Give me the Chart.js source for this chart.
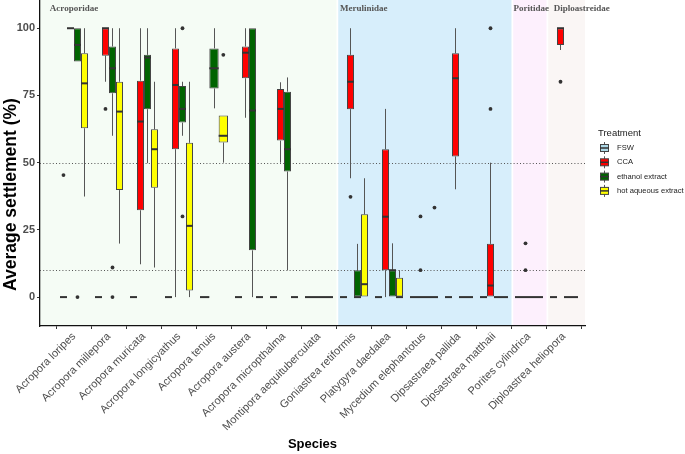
<!DOCTYPE html>
<html><head><meta charset="utf-8">
<script src="https://cdn.jsdelivr.net/npm/chart.js@4.4.0/dist/chart.umd.min.js"></script>
<style>html,body{margin:0;padding:0;background:#fff;}#wrap{width:685px;height:454px;}</style>
</head><body><div id="wrap"><canvas id="c" width="685" height="454"></canvas></div>
<script>
// ---------- DATA ----------
const species = ['Acropora loripes','Acropora millepora','Acropora muricata','Acropora longicyathus',
  'Acropora tenuis','Acropora austera','Acropora micropthalma','Montipora aequituberculata',
  'Goniastrea retiformis','Platygyra daedalea','Mycedium elephantotus','Dipsastraea pallida',
  'Dipsastraea matthaii','Porites cylindrica','Diploastrea heliopora'];
const families = ['Acroporidae','Merulinidae','Poritidae','Diploastreidae'];
const familyFirst = [0, 8, 13, 14];
const familyLast  = [7, 12, 13, 14];
const treatments = ['FSW','CCA','ethanol extract','hot aqueous extract'];
const yTicks = [0, 25, 50, 75, 100];
const refLines = [50, 10];
// box stats per species: [lower whisker, q1, median, q3, upper whisker]; null = not tested
const Z = [0,0,0,0,0];
const fswStats = [Z,Z,Z,Z,Z,Z,Z,Z,Z,Z,Z,Z,Z,Z,Z];
const fswOut = [[45.4],[],[],[],[],[],[],[],[],[],[],[],[],[],[]];
const ccaStats = [
  [100,100,100,100,100],[80.1,89.8,100,100,100],[12.2,32.3,65.3,80.5,100],[0,55.0,78.9,92.5,100],
  null,[66.7,81.4,90.9,93.2,100],[50,58.2,70,77.4,79.9],Z,
  [44.2,69.9,80.1,90.1,100],[0,10,29.9,55,70],Z,[40.1,52.3,81.4,90.7,100],
  [0,0,4.3,19.8,50],Z,[91.9,93.8,100,100,100]];
const ccaOut = [[],[70],[],[],[],[],[],[],[37.3],[],[30,10],[],[70,100],[20,10],[80.1]];
const ethStats = [
  [87.6,87.6,93.8,100,100],[60,75.8,85.1,93.2,100],[49.8,69.9,89.1,90.1,100],[60,64.9,70,78.5,80.1],
  [70.2,77.6,85.1,92.5,100],[0,17.4,69.4,100,100],[10,46.7,55,76.4,81.7],Z,
  [0,0,0,10,19.8],[0,0,10,10,20],Z,Z,Z,Z,Z];
const ethOut = [[0],[11,0],[],[100,30],[],[],[],[],[],[],[],[],[],[],[]];
const hotStats = [
  [37.4,62.8,79.5,90.7,100],[19.9,39.8,69.0,80.1,100],[11.0,40.7,55.0,62.4,80.1],[0,2.5,26.5,57.4,80.1],
  [50,57.5,60,67.5,67.5],Z,Z,Z,
  [0,0,4.8,30.8,44.2],[0,0,0,7.2,10],Z,Z,Z,Z,Z];
const hotOut = [[],[],[],[],[90.1],[],[],[],[],[],[33.3],[],[],[],[]];

const allStats = [fswStats, ccaStats, ethStats, hotStats];
const allOut = [fswOut, ccaOut, ethOut, hotOut];

// ---------- STYLE ----------
const fillColors = ['#ADD8E6','#FF0000','#006400','#FFFF00'];
const famColors = ['#F5FCF5','#D7EEFB','#FDF0FD','#FAF6F5'];
const famLabelX = [-0.69, 7.6, 12.56, 13.71];
const SANS = '"Liberation Sans", Arial, sans-serif';
const SERIF = '"Liberation Serif", "Times New Roman", serif';

const boxPlugin = {
  id: 'boxExtras',
  beforeDraw(chart) {
    const {ctx, chartArea: a, scales: {x, y}} = chart;
    ctx.save();
    families.forEach((f, k) => {
      let x0 = k === 0 ? a.left : x.getPixelForValue(familyFirst[k] - 0.45);
      let x1 = k === families.length - 1 ? a.right : x.getPixelForValue(familyLast[k] + 0.5);
      ctx.fillStyle = famColors[k];
      ctx.fillRect(x0, a.top, x1 - x0, a.bottom - a.top);
    });
    ctx.font = 'bold 9px ' + SERIF;
    ctx.fillStyle = '#555';
    ctx.textBaseline = 'alphabetic';
    ctx.textAlign = 'left';
    families.forEach((f, k) => ctx.fillText(f, x.getPixelForValue(famLabelX[k]), 10.5));
    ctx.restore();
  },
  beforeDatasetsDraw(chart) {
    const {ctx, chartArea: a, scales: {x, y}} = chart;
    ctx.save();
    ctx.strokeStyle = '#555'; ctx.lineWidth = 1; ctx.setLineDash([1, 2.2]);
    refLines.forEach(v => {
      const py = Math.round(y.getPixelForValue(v)) + 0.5;
      ctx.beginPath(); ctx.moveTo(a.left, py); ctx.lineTo(a.right, py); ctx.stroke();
    });
    ctx.setLineDash([]);
    ctx.strokeStyle = '#555'; ctx.lineWidth = 1;
    allStats.forEach((st, i) => {
      const meta = chart.getDatasetMeta(i);
      st.forEach((s, j) => {
        if (!s) return;
        const el = meta.data[j];
        const px = Math.round(el.x) + 0.5;
        ctx.beginPath();
        ctx.moveTo(px, y.getPixelForValue(s[3])); ctx.lineTo(px, y.getPixelForValue(s[4]));
        ctx.moveTo(px, y.getPixelForValue(s[1])); ctx.lineTo(px, y.getPixelForValue(s[0]));
        ctx.stroke();
      });
    });
    ctx.restore();
  },
  afterDatasetsDraw(chart) {
    const {ctx, scales: {x, y}} = chart;
    ctx.save();
    allStats.forEach((st, i) => {
      const meta = chart.getDatasetMeta(i);
      st.forEach((s, j) => {
        if (!s) return;
        const el = meta.data[j];
        const h = el.width / 2;
        const py = y.getPixelForValue(s[2]);
        ctx.strokeStyle = '#333'; ctx.lineWidth = 2;
        ctx.beginPath(); ctx.moveTo(el.x - h, py); ctx.lineTo(el.x + h, py); ctx.stroke();
        ctx.fillStyle = '#333';
        allOut[i][j].forEach(v => {
          ctx.beginPath(); ctx.arc(el.x, y.getPixelForValue(v), 1.9, 0, Math.PI * 2); ctx.fill();
        });
      });
    });
    ctx.restore();
  },
  afterDraw(chart) {
    const {ctx, chartArea: a} = chart;
    ctx.save();
    // y axis title
    ctx.translate(11.5, 194.5);
    ctx.rotate(-Math.PI / 2);
    ctx.font = 'bold 17.5px ' + SANS;
    ctx.fillStyle = '#000';
    ctx.textAlign = 'center'; ctx.textBaseline = 'middle';
    ctx.fillText('Average settlement (%)', 0, 0);
    ctx.restore();
    // legend
    ctx.save();
    ctx.fillStyle = '#1a1a1a';
    ctx.font = '9.5px ' + SANS;
    ctx.textBaseline = 'middle'; ctx.textAlign = 'left';
    ctx.fillText('Treatment', 598, 133);
    ctx.font = '7.6px ' + SANS;
    treatments.forEach((t, i) => {
      const cy = 148 + i * 14.3;
      ctx.strokeStyle = '#555'; ctx.lineWidth = 1;
      ctx.beginPath(); ctx.moveTo(604.5, cy - 6); ctx.lineTo(604.5, cy + 6); ctx.stroke();
      ctx.fillStyle = fillColors[i];
      ctx.fillRect(600, cy - 3.5, 9, 7);
      ctx.strokeStyle = '#444';
      ctx.strokeRect(600.5, cy - 3.5, 8, 7);
      ctx.strokeStyle = '#333'; ctx.lineWidth = 1.5;
      ctx.beginPath(); ctx.moveTo(600, cy); ctx.lineTo(609, cy); ctx.stroke();
      ctx.fillStyle = '#222';
      ctx.fillText(t, 617, cy);
    });
    ctx.restore();
  }
};

new Chart(document.getElementById('c'), {
  type: 'bar',
  data: {
    datasets: treatments.map((t, i) => ({
      label: t,
      data: allStats[i].map((s, j) => ({x: j, y: s ? [s[1], s[3]] : null})),
      backgroundColor: fillColors[i],
      borderColor: '#444',
      borderWidth: 1,
      borderSkipped: false,
      categoryPercentage: 0.8,
      barPercentage: 1,
      skipNull: true
    }))
  },
  options: {
    responsive: false, animation: false, events: [],
    layout: {padding: {left: 0, right: 100, top: 0, bottom: 0}},
    plugins: {legend: {display: false}, tooltip: {enabled: false}},
    scales: {
      x: {
        type: 'linear', min: -0.971, max: 14.6, offset: false,
        afterBuildTicks: s => { s.ticks = species.map((_, i) => ({value: i})); },
        afterFit: s => { s.height = 128; s.paddingLeft = 0; s.paddingRight = 0; },
        ticks: {autoSkip: false, maxRotation: 45, minRotation: 45, padding: 1,
          font: {family: SANS, size: 11}, color: '#4d4d4d',
          callback: v => species[Math.round(v)]},
        grid: {display: true, drawOnChartArea: false, drawTicks: true, tickLength: 3, tickColor: '#333'},
        border: {display: true, color: '#111', width: 1.3},
        title: {display: true, text: 'Species', color: '#000',
          font: {family: SANS, size: 13, weight: 'bold'}, padding: {top: 0, bottom: 2}}
      },
      y: {
        min: -10.75, max: 110.5,
        afterBuildTicks: s => { s.ticks = yTicks.map(v => ({value: v})); },
        afterFit: s => { s.width = 40; s.paddingTop = 0; s.paddingBottom = 0; },
        ticks: {padding: 2, font: {family: SANS, size: 11, weight: 'bold'}, color: '#4d4d4d'},
        grid: {display: true, drawOnChartArea: false, drawTicks: true, tickLength: 3, tickColor: '#333'},
        border: {display: true, color: '#111', width: 1.3},
        title: {display: false}
      }
    }
  },
  plugins: [boxPlugin]
});
</script></body></html>
